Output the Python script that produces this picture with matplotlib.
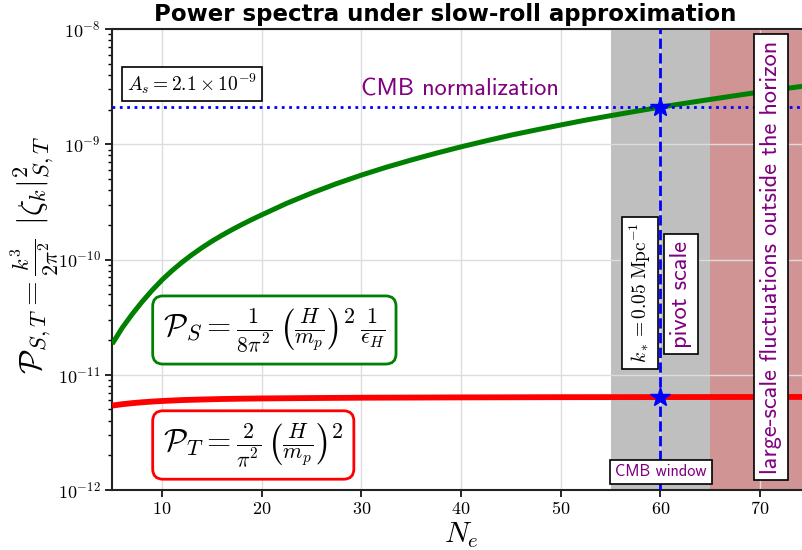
import matplotlib
matplotlib.use("Agg")
import matplotlib.pyplot as plt

plt.rcParams['mathtext.fontset'] = 'cm'

# ---- data ----
N_e = [5, 6, 7, 8, 9, 10, 11, 12, 13, 14, 15, 16, 17, 18, 19, 20,
       22.5, 25, 27.5, 30, 32.5, 35, 37.5, 40, 42.5, 45, 47.5, 50,
       52.5, 55, 57.5, 60, 62.5, 65, 67.5, 70, 72.5, 75]
P_S = [1.85e-11, 2.55e-11, 3.35e-11, 4.3e-11, 5.4e-11, 6.65e-11, 8.0e-11, 9.45e-11,
       1.10e-10, 1.265e-10, 1.44e-10, 1.62e-10, 1.81e-10, 2.01e-10, 2.22e-10, 2.44e-10,
       3.07e-10, 3.77e-10, 4.55e-10, 5.4e-10, 6.32e-10, 7.3e-10, 8.36e-10, 9.5e-10,
       1.07e-9, 1.2e-9, 1.33e-9, 1.47e-9, 1.62e-9, 1.77e-9, 1.93e-9, 2.1e-9,
       2.27e-9, 2.45e-9, 2.64e-9, 2.84e-9, 3.04e-9, 3.25e-9]
N_t = [5, 6, 7, 8, 9, 10, 12, 14, 16, 18, 20, 25, 30, 35, 40, 50, 60, 75]
P_T = [5.4e-12, 5.55e-12, 5.67e-12, 5.77e-12, 5.85e-12, 5.92e-12, 6.03e-12, 6.1e-12,
       6.16e-12, 6.2e-12, 6.23e-12, 6.28e-12, 6.32e-12, 6.34e-12, 6.36e-12, 6.39e-12,
       6.4e-12, 6.42e-12]
A_s = 2.1e-9
N_pivot = 60
cmb_window = (55, 65)
horizon_region = (65, 75)
x_ticks = [10, 20, 30, 40, 50, 60, 70]
y_ticks = [1e-12, 1e-11, 1e-10, 1e-9, 1e-8]
y_ticklabels = [r'$\mathbf{10^{-12}}$', r'$\mathbf{10^{-11}}$', r'$\mathbf{10^{-10}}$',
                r'$\mathbf{10^{-9}}$', r'$\mathbf{10^{-8}}$']

W, H = 803, 550
fig = plt.figure(figsize=(W / 100, H / 100), dpi=100)
left_px, right_px, top_px, bot_px = 112.2, 810.0, 29.0, 490.0
ax = fig.add_axes([left_px / W, 1 - bot_px / H, (right_px - left_px) / W, (bot_px - top_px) / H])

ax.set_xlim(5, 75)
ax.set_yscale('log')
ax.set_ylim(1e-12, 1e-8)
ax.set_axisbelow(True)
ax.grid(True, which='major', color='#dcdcdc', lw=1.0)

ax.axvspan(*cmb_window, color='gray', alpha=0.5, lw=0, zorder=0.5)
ax.axvspan(*horizon_region, color='brown', alpha=0.5, lw=0, zorder=0.5)

ax.plot(N_e, P_S, color='green', lw=3.6, zorder=3, solid_capstyle='butt')
ax.plot(N_t, P_T, color='red', lw=4.2, zorder=3, solid_capstyle='butt')

ax.axhline(A_s, color='blue', ls=':', lw=2, zorder=4)
ax.axvline(N_pivot, color='blue', ls='--', lw=2, zorder=4)
pt_pivot = P_T[N_t.index(N_pivot)]
ax.plot([N_pivot, N_pivot], [A_s, pt_pivot], ls='none', marker='*', ms=15,
        color='blue', zorder=5)

ax.set_xticks(x_ticks)
ax.set_xticklabels([r'$\mathbf{%d}$' % t for t in x_ticks], fontsize=13)
ax.set_yticks(y_ticks)
ax.set_yticklabels(y_ticklabels, fontsize=13)
ax.tick_params(axis='both', which='major', length=5, width=1.2)
ax.tick_params(axis='x', which='major', pad=2.5)
ax.tick_params(axis='y', which='minor', length=3, width=1)
for s in ax.spines.values():
    s.set_linewidth(1.5)
    s.set_color('#222222')

def px(x, y):
    return (x / W, 1 - y / H)

fig.text(*px(461, 535), r'$N_e$', fontsize=21.5, ha='center', va='center')
fig.text(*px(35, 255), r'$\mathcal{P}_{S,T} = \frac{k^3}{2\pi^2}\;\,|\zeta_k|^2_{S,T}$',
         fontsize=23, rotation=90, ha='center', va='center')

fig.text(*px(445, 14), 'Power spectra under slow-roll approximation',
         fontsize=16.5, fontweight='bold', ha='center', va='center', family='DejaVu Sans')

purple = 'purple'
sans = 'cmss10'

fig.text(*px(192, 84), r'$A_s = \mathbf{2.1}\times \mathbf{10^{-9}}$', fontsize=14,
         ha='center', va='center',
         bbox=dict(boxstyle='square,pad=0.25', fc='white', ec='black', lw=1.2), zorder=6)
fig.text(*px(460, 90), 'CMB normalization', fontsize=17.5, color=purple, family=sans,
         ha='center', va='center', zorder=6)

fig.text(*px(163, 330),
         r'$\mathcal{P}_{S} = \frac{1}{8\pi^2}\,\left(\frac{H}{m_p}\right)^2\,\frac{1}{\epsilon_H}$',
         fontsize=22.5, ha='left', va='center',
         bbox=dict(boxstyle='round,pad=0.33', fc='white', ec='green', lw=2), zorder=6)
fig.text(*px(163, 445), r'$\mathcal{P}_{T} = \frac{2}{\pi^2}\,\left(\frac{H}{m_p}\right)^2$',
         fontsize=22.5, ha='left', va='center',
         bbox=dict(boxstyle='round,pad=0.33', fc='white', ec='red', lw=2), zorder=6)

fig.text(*px(640, 293), r'$k_* = 0.05\;\mathrm{Mpc}^{-1}$', fontsize=14, rotation=90,
         ha='center', va='center',
         bbox=dict(boxstyle='square,pad=0.3', fc='white', ec='black', lw=1.2), zorder=6)
fig.text(*px(681, 294), 'pivot scale', fontsize=17.5, rotation=90, color=purple, family=sans,
         ha='center', va='center',
         bbox=dict(boxstyle='square,pad=0.25', fc='white', ec='black', lw=1.2), zorder=6)
fig.text(*px(661, 472), 'CMB window', fontsize=11.7, color=purple, family=sans,
         ha='center', va='center',
         bbox=dict(boxstyle='square,pad=0.3', fc='white', ec='black', lw=1.2), zorder=6)
fig.text(*px(771, 257), 'large-scale fluctuations outside the horizon', fontsize=17.5,
         rotation=90, color=purple, family=sans, ha='center', va='center',
         bbox=dict(boxstyle='square,pad=0.25', fc='white', ec='black', lw=1.2), zorder=6)

fig.savefig('out.png', dpi=100)
